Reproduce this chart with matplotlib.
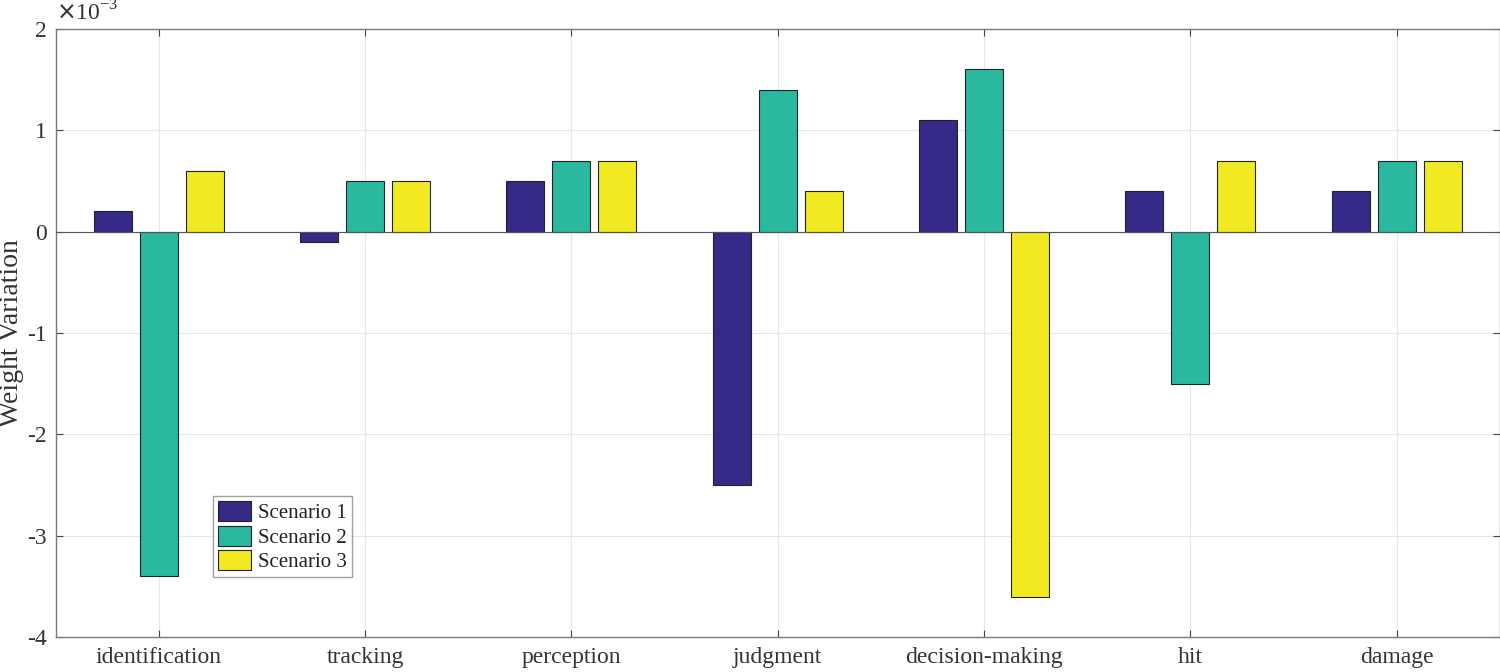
import matplotlib.pyplot as plt
import numpy as np

plt.rcParams['font.family'] = ['Liberation Serif', 'DejaVu Serif']

categories = ['identification', 'tracking', 'perception', 'judgment',
              'decision-making', 'hit', 'damage']
scenario1 = [0.2, -0.1, 0.5, -2.5, 1.1, 0.4, 0.4]
scenario2 = [-3.4, 0.5, 0.7, 1.4, 1.6, -1.5, 0.7]
scenario3 = [0.6, 0.5, 0.7, 0.4, -3.6, 0.7, 0.7]
series = [scenario1, scenario2, scenario3]
labels = ['Scenario 1', 'Scenario 2', 'Scenario 3']
colors = ['#352A87', '#2AB99F', '#F1EA22']

fig = plt.figure(figsize=(15, 6.72), dpi=100)
ax = fig.add_axes([0.037, 0.052, 0.963, 0.905])

x = np.arange(1, len(categories) + 1)
offset = 0.223
width = 0.184
for i, (vals, lab, c) in enumerate(zip(series, labels, colors)):
    ax.bar(x + (i - 1) * offset, vals, width, color=c, edgecolor='#222222',
           linewidth=0.8, label=lab, zorder=3)

ax.axhline(0, color='#555555', linewidth=0.8, zorder=4)

ax.set_xlim(0.5, 7.5)
ax.set_ylim(-4, 2)
ax.set_xticks(x)
ax.set_xticklabels(categories)
ax.set_yticks(np.arange(-4, 3, 1))
ax.set_yticklabels([str(v) for v in range(-4, 3)])
ax.grid(True, color='#e6e6e6', linewidth=0.8, zorder=0)
ax.set_axisbelow(True)

for s in ax.spines.values():
    s.set_color('#7a7a7a')
    s.set_linewidth(1.0)
ax.tick_params(direction='in', length=5, colors='#444444', labelsize=17,
               labelcolor='#333333', top=True, right=True, pad=7)
ax.tick_params(axis='y', pad=6)

ax.set_ylabel('Weight Variation', fontsize=20, color='#333333', va='center')
ax.yaxis.set_label_coords(-0.0305, 0.5)
ax.text(0.0, 1.006, r'$\times$10$^{\mathregular{-3}}$', transform=ax.transAxes,
        fontsize=17, color='#333333', va='bottom', ha='left')

leg = ax.legend(loc='lower left', bbox_to_anchor=(0.109, 0.098), fontsize=15,
                frameon=True, fancybox=False, edgecolor='#888888',
                handlelength=1.6, handleheight=1.1, handletextpad=0.3,
                borderpad=0.25, labelspacing=0.12, borderaxespad=0)
leg.get_frame().set_linewidth(1.0)
for t in leg.get_texts():
    t.set_color('#222222')

fig.savefig('out.png', dpi=100)
